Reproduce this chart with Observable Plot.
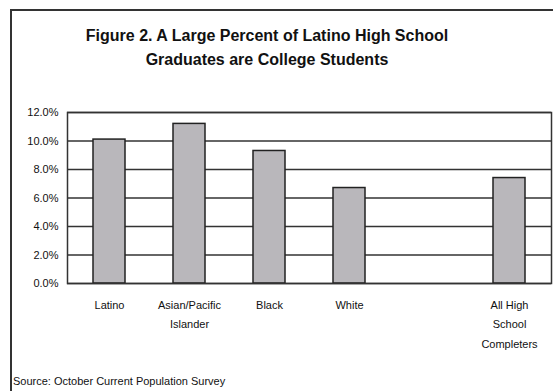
<!DOCTYPE html>
<html>
<head>
<meta charset="utf-8">
<script src="https://cdn.jsdelivr.net/npm/d3@7"></script>
<script src="https://cdn.jsdelivr.net/npm/@observablehq/plot@0.6"></script>
<style>
  html, body { margin: 0; padding: 0; background: #fff; width: 553px; height: 391px; overflow: hidden; }
  body { position: relative; font-family: "Liberation Sans", Arial, sans-serif; }
  #box { position: absolute; left: 10px; top: 9px; width: 600px; height: 420px; border-left: 2px solid #333; border-top: 2px solid #333; box-sizing: border-box; }
  #title { position: absolute; left: 0; width: 534px; top: 24px; text-align: center; font-weight: bold; font-size: 16px; line-height: 24px; color: #111; }
  #chart { position: absolute; left: 0; top: 95px; }
  #source { position: absolute; left: 13px; top: 375px; font-size: 11px; color: #111; }
</style>
</head>
<body>
<div id="box"></div>
<div id="title">Figure 2. A Large Percent of Latino High School<br>Graduates are College Students</div>
<div id="chart"></div>
<div id="source">Source: October Current Population Survey</div>
<script>
const categories = ["Latino", "Asian/Pacific Islander", "Black", "White", "All High School Completers"];
const values = [10.1, 11.2, 9.3, 6.7, 7.4];
const slots = ["Latino", "Asian/Pacific Islander", "Black", "White", " ", "All High School Completers"];
const tickLabels = {
  "Latino": "Latino",
  "Asian/Pacific Islander": "Asian/Pacific\nIslander",
  "Black": "Black",
  "White": "White",
  " ": "",
  "All High School Completers": "All High\nSchool\nCompleters"
};
const yTicks = [0, 2, 4, 6, 8, 10, 12];

const data = categories.map((c, i) => ({category: c, value: values[i]}));

const chart = Plot.plot({
  width: 553,
  height: 262,
  marginLeft: 67,
  marginRight: 2,
  marginTop: 17,
  marginBottom: 74,
  style: {fontFamily: "'Liberation Sans', Arial, sans-serif", fontSize: "11px", color: "#111", background: "transparent"},
  x: {domain: slots, padding: 0, label: null},
  y: {domain: [0, 12], label: null},
  marks: [
    Plot.ruleY(yTicks, {stroke: "#333", strokeWidth: 1.5}),
    Plot.barY(data, {x: "category", y: "value", fill: "#b9b7bb", stroke: "#222", strokeWidth: 1.5, insetLeft: 24, insetRight: 24}),
    Plot.frame({stroke: "#333", strokeWidth: 1.5}),
    Plot.axisY({ticks: yTicks, tickSize: 0, tickPadding: 9, tickFormat: d => d.toFixed(1) + "%", label: null}),
    Plot.axisX({tickSize: 0, tickPadding: 12, tickFormat: d => tickLabels[d], lineHeight: 1.75, label: null})
  ]
});
document.getElementById("chart").appendChild(chart);
</script>
</body>
</html>
